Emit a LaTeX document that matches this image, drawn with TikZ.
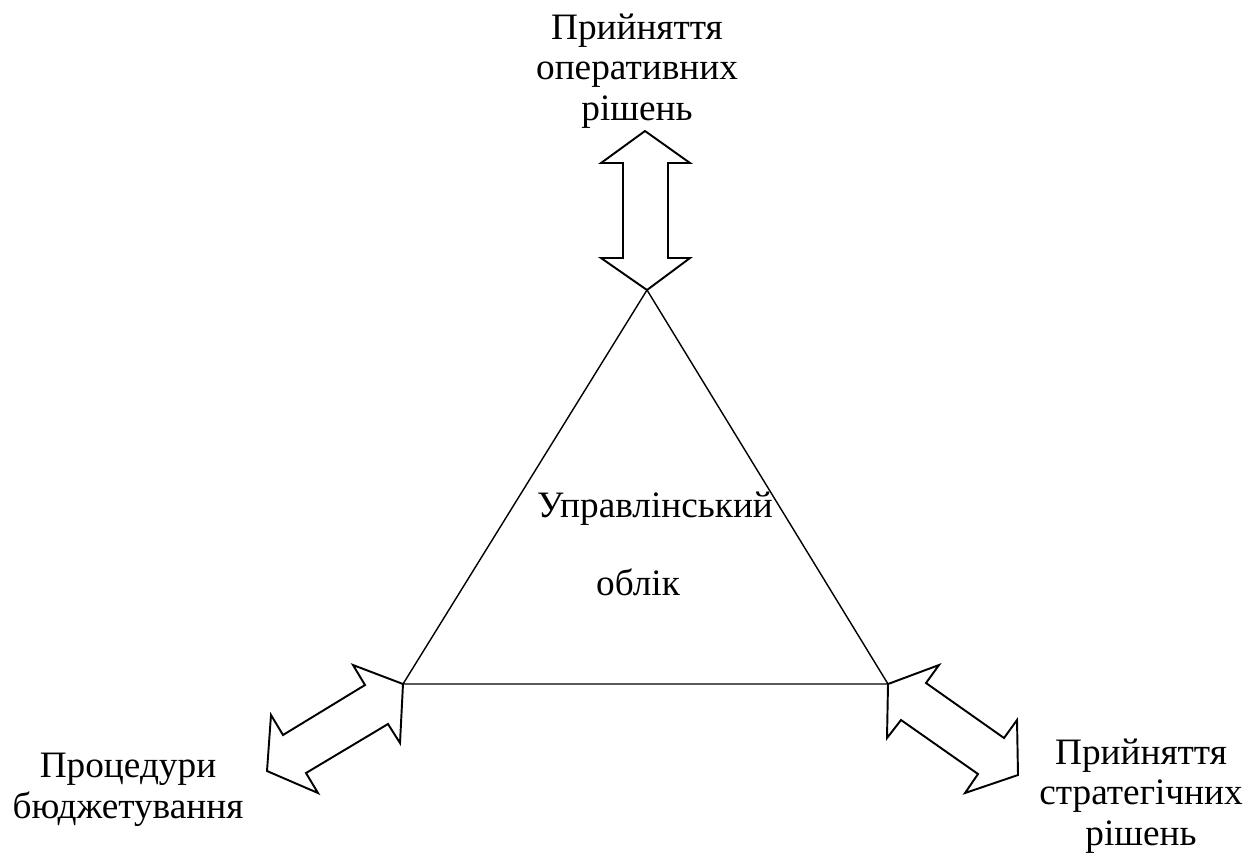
\documentclass[tikz,border=0pt]{standalone}
\usepackage{fontspec}
\setmainfont{Liberation Serif}

\tikzset{
  label text/.style={inner sep=0pt, align=center, font=\fontsize{10.6}{11.4}\selectfont},
  fat arrow/.style={draw, line width=0.55pt, line join=miter, fill=white},
}

\begin{document}
\begin{tikzpicture}[x=0.01cm, y=-0.01cm]
        \useasboundingbox (0,0) rectangle (1249,863);

        % Corners of the triangle
        \coordinate (T) at (647,290);
        \coordinate (L) at (403,684);
        \coordinate (R) at (888,684);

        % Triangle
        \draw[line width=0.4pt] (T) -- (L) -- (R) -- cycle;

        % Double arrows
        \draw[fat arrow] (645,131) -- (690,163) -- (668,163) -- (668,258) -- (690,258)
                -- (T) -- (601,258) -- (623,258) -- (623,163) -- (601,163) -- cycle;
        \draw[fat arrow] (L) -- (353,665) -- (365,685) -- (283,735) -- (271,715)
                -- (267,771) -- (318,793) -- (306,773) -- (388,724) -- (400,743) -- cycle;
        \draw[fat arrow] (R) -- (939,665) -- (926,683) -- (1004,738) -- (1017,720)
                -- (1018,775) -- (965,793) -- (978,774) -- (901,720) -- (887,738) -- cycle;

        % Labels (base = baseline of the last line)
        \node[label text, anchor=base] (oper) at (637,120)
                {Прийняття\\оперативних\\рішень};
        \node[label text, anchor=base] (upr) at (655,517) {Управлінський};
        \node[label text, anchor=base] (obl) at (638,595) {облік};
        \node[label text, anchor=base] (budg) at (128,818)
                {Процедури\\бюджетування};
        \node[label text, anchor=base] (strat) at (1141,845)
                {Прийняття\\стратегічних\\рішень};
\end{tikzpicture}
\end{document}
